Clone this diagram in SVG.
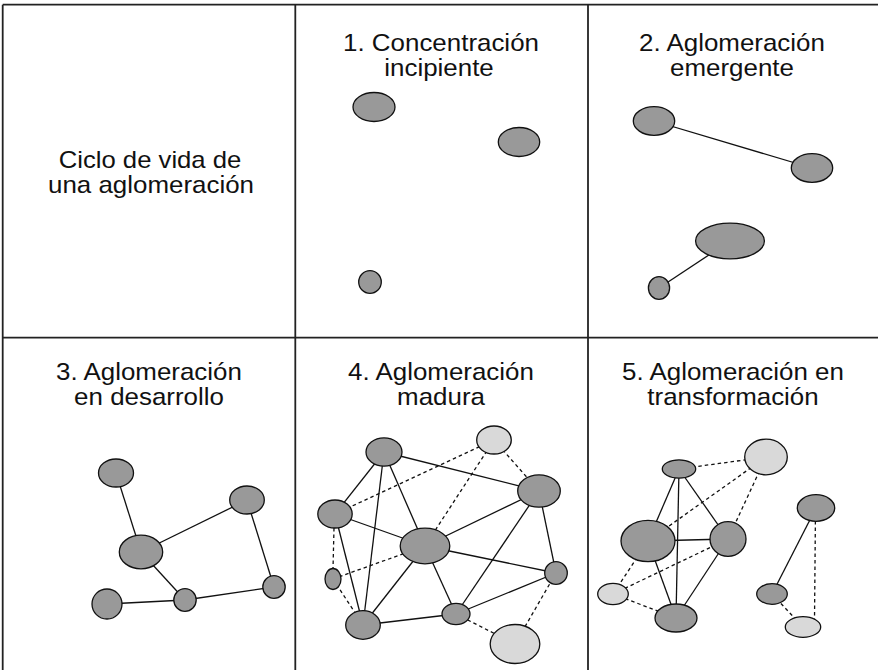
<svg xmlns="http://www.w3.org/2000/svg" width="878" height="670" viewBox="0 0 878 670">
<style>
.grid{stroke:#222;stroke-width:1.8;fill:none}
.t{font-family:"Liberation Sans",Arial,Helvetica,sans-serif;font-size:24px;fill:#111;text-anchor:middle}
.n{fill:#999;stroke:#111;stroke-width:1.3}
.l{fill:#d9d9d9;stroke:#111;stroke-width:1.3}
.s{stroke:#111;stroke-width:1.3;fill:none}
.d{stroke:#111;stroke-width:1.3;fill:none;stroke-dasharray:3.5 3}
</style>
<rect width="878" height="670" fill="#fff"/>
<g id="grid">
<line class="grid" x1="2.7" y1="4.7" x2="878" y2="4.7"/>
<line class="grid" x1="2.7" y1="4.7" x2="2.7" y2="670"/>
<line class="grid" x1="295.3" y1="4.7" x2="295.3" y2="670"/>
<line class="grid" x1="588" y1="4.7" x2="588" y2="670"/>
<line class="grid" x1="2.7" y1="337.7" x2="878" y2="337.7"/>
</g>
<g id="titles">
<text class="t" transform="translate(150,168) scale(1.07,1)">Ciclo de vida de</text>
<text class="t" transform="translate(151,193) scale(1.08,1)">una aglomeración</text>
<text class="t" transform="translate(441,51) scale(1.08,1)">1. Concentración</text>
<text class="t" transform="translate(439,76) scale(1.08,1)">incipiente</text>
<text class="t" transform="translate(732,51) scale(1.08,1)">2. Aglomeración</text>
<text class="t" transform="translate(732,76) scale(1.08,1)">emergente</text>
<text class="t" transform="translate(149,379.5) scale(1.08,1)">3. Aglomeración</text>
<text class="t" transform="translate(149,404.5) scale(1.08,1)">en desarrollo</text>
<text class="t" transform="translate(441,379.5) scale(1.08,1)">4. Aglomeración</text>
<text class="t" transform="translate(441,404.5) scale(1.08,1)">madura</text>
<text class="t" transform="translate(733,379.5) scale(1.08,1)">5. Aglomeración en</text>
<text class="t" transform="translate(733,404.5) scale(1.08,1)">transformación</text>
</g>
<g id="connectors">
<line class="s" x1="654" y1="121" x2="812" y2="168"/>
<line class="s" x1="659" y1="288" x2="730" y2="241"/>
<line class="s" x1="116" y1="473" x2="141" y2="552"/>
<line class="s" x1="141" y1="552" x2="247" y2="500"/>
<line class="s" x1="141" y1="552" x2="185" y2="600"/>
<line class="s" x1="107" y1="604" x2="185" y2="600"/>
<line class="s" x1="185" y1="600" x2="274" y2="587"/>
<line class="s" x1="247" y1="500" x2="274" y2="587"/>
<line class="s" x1="384" y1="452" x2="335" y2="514"/>
<line class="s" x1="384" y1="452" x2="363" y2="625"/>
<line class="s" x1="384" y1="452" x2="425" y2="546"/>
<line class="s" x1="384" y1="452" x2="539" y2="491"/>
<line class="s" x1="335" y1="514" x2="425" y2="546"/>
<line class="s" x1="335" y1="514" x2="363" y2="625"/>
<line class="s" x1="425" y1="546" x2="539" y2="491"/>
<line class="s" x1="425" y1="546" x2="556" y2="573"/>
<line class="s" x1="425" y1="546" x2="363" y2="625"/>
<line class="s" x1="425" y1="546" x2="456" y2="614"/>
<line class="s" x1="539" y1="491" x2="456" y2="614"/>
<line class="s" x1="539" y1="491" x2="556" y2="573"/>
<line class="s" x1="456" y1="614" x2="363" y2="625"/>
<line class="s" x1="456" y1="614" x2="556" y2="573"/>
<line class="d" x1="335" y1="514" x2="494" y2="440"/>
<line class="d" x1="494" y1="440" x2="425" y2="546"/>
<line class="d" x1="494" y1="440" x2="539" y2="491"/>
<line class="d" x1="334" y1="528" x2="333" y2="569"/>
<line class="d" x1="333" y1="579" x2="425" y2="546"/>
<line class="d" x1="333" y1="579" x2="363" y2="625"/>
<line class="d" x1="456" y1="614" x2="515" y2="644"/>
<line class="d" x1="556" y1="573" x2="515" y2="644"/>
<line class="s" x1="679" y1="469" x2="648" y2="541"/>
<line class="s" x1="679" y1="469" x2="676" y2="618"/>
<line class="s" x1="679" y1="469" x2="728" y2="539"/>
<line class="s" x1="648" y1="541" x2="728" y2="539"/>
<line class="s" x1="648" y1="541" x2="676" y2="618"/>
<line class="s" x1="728" y1="539" x2="676" y2="618"/>
<line class="s" x1="816" y1="508" x2="772" y2="594"/>
<line class="d" x1="679" y1="469" x2="766" y2="457"/>
<line class="d" x1="648" y1="541" x2="766" y2="457"/>
<line class="d" x1="728" y1="539" x2="766" y2="457"/>
<line class="d" x1="648" y1="541" x2="613" y2="594"/>
<line class="d" x1="613" y1="594" x2="728" y2="539"/>
<line class="d" x1="613" y1="594" x2="676" y2="618"/>
<line class="d" x1="772" y1="594" x2="803" y2="627"/>
<line class="d" x1="815.5" y1="508" x2="814.5" y2="620"/>
</g>
<g id="p1-nodes">
<ellipse id="p1a" class="n" cx="374" cy="107" rx="21" ry="14.5"/>
<ellipse id="p1b" class="n" cx="519" cy="142" rx="20.7" ry="14.5"/>
<ellipse id="p1c" class="n" cx="370" cy="282" rx="11.3" ry="11.3"/>
</g>
<g id="p2-nodes">
<ellipse id="p2a" class="n" cx="654" cy="121" rx="20.7" ry="14.3"/>
<ellipse id="p2b" class="n" cx="812" cy="168" rx="20.7" ry="14.3"/>
<ellipse id="p2c" class="n" cx="730" cy="241" rx="34.4" ry="17.8"/>
<ellipse id="p2d" class="n" cx="659" cy="288" rx="10.6" ry="11.3"/>
</g>
<g id="p3-nodes">
<ellipse id="p3a" class="n" cx="116" cy="473" rx="17.5" ry="14"/>
<ellipse id="p3b" class="n" cx="247" cy="500" rx="17.3" ry="14"/>
<ellipse id="p3c" class="n" cx="141" cy="552" rx="21.7" ry="16.8"/>
<ellipse id="p3d" class="n" cx="107" cy="604" rx="15" ry="15"/>
<ellipse id="p3e" class="n" cx="185" cy="600" rx="11.2" ry="11.3"/>
<ellipse id="p3f" class="n" cx="274" cy="587" rx="11.2" ry="11.3"/>
</g>
<g id="p4-nodes">
<ellipse id="p4a" class="n" cx="384" cy="452" rx="18" ry="14.2"/>
<ellipse id="p4b" class="l" cx="494" cy="440" rx="17.3" ry="14"/>
<ellipse id="p4c" class="n" cx="539" cy="491" rx="21.3" ry="16.2"/>
<ellipse id="p4d" class="n" cx="335" cy="514" rx="17.2" ry="14"/>
<ellipse id="p4e" class="n" cx="425" cy="546" rx="24.8" ry="17.8"/>
<ellipse id="p4f" class="n" cx="333" cy="579" rx="8" ry="10.5"/>
<ellipse id="p4g" class="n" cx="556" cy="573" rx="11.3" ry="11.3"/>
<ellipse id="p4h" class="n" cx="456" cy="614" rx="14" ry="10.7"/>
<ellipse id="p4i" class="n" cx="363" cy="625" rx="17.3" ry="14.3"/>
<ellipse id="p4j" class="l" cx="515" cy="644" rx="24.8" ry="19.5"/>
</g>
<g id="p5-nodes">
<ellipse id="p5a" class="n" cx="679" cy="469" rx="16.7" ry="9.2"/>
<ellipse id="p5b" class="l" cx="766" cy="457" rx="21.3" ry="17.8"/>
<ellipse id="p5c" class="n" cx="648" cy="541" rx="27" ry="20.7"/>
<ellipse id="p5d" class="n" cx="728" cy="539" rx="18" ry="17.3"/>
<ellipse id="p5e" class="l" cx="613" cy="594" rx="15.3" ry="10.7"/>
<ellipse id="p5f" class="n" cx="676" cy="618" rx="21" ry="14"/>
<ellipse id="p5g" class="n" cx="816" cy="508" rx="18.7" ry="13.3"/>
<ellipse id="p5h" class="n" cx="772" cy="594" rx="15.3" ry="10.3"/>
<ellipse id="p5i" class="l" cx="803" cy="627" rx="17.7" ry="10.3"/>
</g>
</svg>
